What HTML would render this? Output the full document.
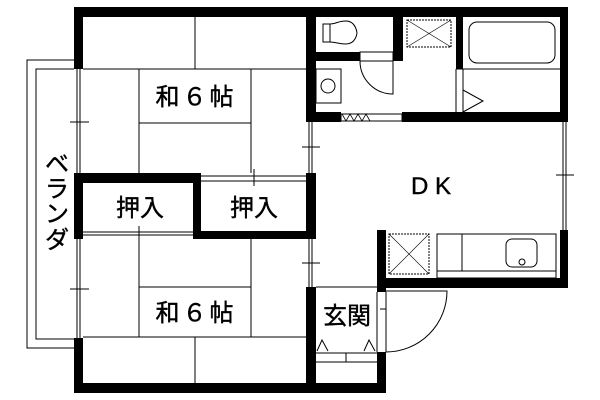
<!DOCTYPE html>
<html><head><meta charset="utf-8"><style>
html,body{margin:0;padding:0;background:#fff;width:600px;height:400px;overflow:hidden}
svg{display:block}
text{font-family:"Liberation Sans","Noto Sans CJK JP",sans-serif;fill:#000}
</style></head><body>
<svg width="600" height="400" viewBox="0 0 600 400" xmlns="http://www.w3.org/2000/svg">
<g fill="none" stroke="#000" stroke-width="1">
<polyline points="74,60 27,60 27,348 74,348"/>
<polyline points="74,69 36,69 36,339 74,339"/>
<line x1="77" y1="69" x2="77" y2="173"/><line x1="80" y1="69" x2="80" y2="173"/>
<line x1="70" y1="122" x2="89" y2="122"/>
<line x1="77" y1="239" x2="77" y2="338"/><line x1="80" y1="239" x2="80" y2="338"/>
<line x1="70" y1="289" x2="89" y2="289"/>
<line x1="309" y1="122" x2="309" y2="173"/><line x1="312" y1="122" x2="312" y2="173"/>
<line x1="302" y1="147" x2="320" y2="147"/>
<line x1="309" y1="239" x2="309" y2="287"/><line x1="312" y1="239" x2="312" y2="287"/>
<line x1="302" y1="263" x2="320" y2="263"/>
<line x1="83" y1="69" x2="306" y2="69"/>
<line x1="195" y1="17" x2="195" y2="69"/>
<line x1="139" y1="123" x2="251" y2="123"/>
<line x1="139" y1="69" x2="139" y2="173"/>
<line x1="251" y1="69" x2="251" y2="173"/>
<line x1="201" y1="176" x2="306" y2="176"/><line x1="201" y1="181" x2="306" y2="181"/>
<line x1="254" y1="169" x2="254" y2="186"/>
<line x1="83" y1="232" x2="193" y2="232"/><line x1="83" y1="235" x2="193" y2="235"/>
<line x1="139" y1="226" x2="139" y2="245"/>
<line x1="83" y1="337" x2="306" y2="337"/>
<line x1="139" y1="287" x2="251" y2="287"/>
<line x1="139" y1="239" x2="139" y2="337"/>
<line x1="251" y1="239" x2="251" y2="337"/>
<line x1="195" y1="337" x2="195" y2="383"/>
<rect x="323" y="24" width="7" height="18"/>
<path d="M330,24 C336,24 338,21 346,21 C356,21 357,33 357,33 C357,33 356,44 346,44 C338,44 336,42 330,42"/>
<rect x="360" y="52" width="33" height="9"/>
<path d="M360,61 A33,33 0 0 0 393,94 L393,61"/>
<rect x="316" y="69" width="25" height="34"/>
<circle cx="328" cy="86" r="7"/>
<rect x="407" y="20" width="44" height="27" stroke-dasharray="2,1"/>
<line x1="407" y1="20" x2="451" y2="47" stroke-width="0.6"/><line x1="451" y1="20" x2="407" y2="47" stroke-width="0.6"/>
<rect x="469" y="22" width="86" height="41" rx="8"/>
<line x1="456" y1="69" x2="560" y2="69"/>
<line x1="456" y1="69" x2="456" y2="112"/><line x1="463" y1="69" x2="463" y2="112"/>
<polyline points="463,90 483,101 463,112"/>
<rect x="341" y="114" width="61" height="7"/>
<polyline points="342,114 346,121 350,114 354,121 358,114 362,121 366,114 370,121" stroke-width="0.8"/>
<line x1="563" y1="122" x2="563" y2="230"/><line x1="566" y1="122" x2="566" y2="230"/>
<line x1="556" y1="175" x2="574" y2="175"/>
<rect x="389" y="234" width="40" height="40" stroke-dasharray="2,1"/>
<line x1="389" y1="234" x2="429" y2="274" stroke-width="0.6"/><line x1="429" y1="234" x2="389" y2="274" stroke-width="0.6"/>
<rect x="437" y="234" width="119" height="44"/>
<line x1="462" y1="234" x2="462" y2="271"/>
<line x1="437" y1="271" x2="556" y2="271"/>
<rect x="506" y="239" width="31" height="28" rx="6"/>
<circle cx="522" cy="262" r="3"/>
<line x1="316" y1="287" x2="377" y2="287"/>
<line x1="316" y1="353" x2="377" y2="353"/>
<line x1="316" y1="362" x2="377" y2="362"/>
<line x1="346" y1="353" x2="346" y2="362"/>
<polyline points="317,351 322,340 328,351"/>
<polyline points="364,351 369,340 375,351"/>
<line x1="377" y1="292" x2="377" y2="352"/><line x1="386" y1="292" x2="386" y2="352"/>
<line x1="380" y1="309" x2="386" y2="309"/>
<path d="M386,291 L447,291 A61,61 0 0 1 386,352"/>
</g>
<g fill="#000">
<rect x="74" y="7" width="494" height="10"/>
<rect x="74" y="7" width="9" height="62"/>
<rect x="74" y="173" width="9" height="66"/>
<rect x="74" y="338" width="9" height="55"/>
<rect x="74" y="383" width="312" height="10"/>
<rect x="306" y="7" width="10" height="115"/>
<rect x="306" y="173" width="10" height="66"/>
<rect x="306" y="287" width="10" height="106"/>
<rect x="74" y="173" width="127" height="10"/>
<rect x="193" y="173" width="8" height="66"/>
<rect x="193" y="231" width="123" height="8"/>
<rect x="316" y="52" width="44" height="9"/>
<rect x="393" y="17" width="10" height="44"/>
<rect x="456" y="17" width="7" height="52"/>
<rect x="560" y="7" width="8" height="115"/>
<rect x="306" y="112" width="35" height="10"/>
<rect x="402" y="112" width="166" height="10"/>
<rect x="377" y="230" width="9" height="62"/>
<rect x="377" y="278" width="191" height="10"/>
<rect x="560" y="230" width="8" height="58"/>
<rect x="377" y="352" width="9" height="41"/>
</g>
<g font-size="24" stroke="#000" stroke-width="0.4">
<text x="196" y="105" text-anchor="middle" letter-spacing="3">和６帖</text>
<text x="196" y="321" text-anchor="middle" letter-spacing="3">和６帖</text>
<text x="140" y="216" text-anchor="middle">押入</text>
<text x="254" y="216" text-anchor="middle">押入</text>
<text x="347" y="324" text-anchor="middle">玄関</text>
<text x="431" y="194" text-anchor="middle" font-size="24">D K</text>
<text x="57" y="172" text-anchor="middle">ベ</text>
<text x="57" y="197" text-anchor="middle">ラ</text>
<text x="57" y="222" text-anchor="middle">ン</text>
<text x="57" y="248" text-anchor="middle">ダ</text>
</g>
</svg>
</body></html>
